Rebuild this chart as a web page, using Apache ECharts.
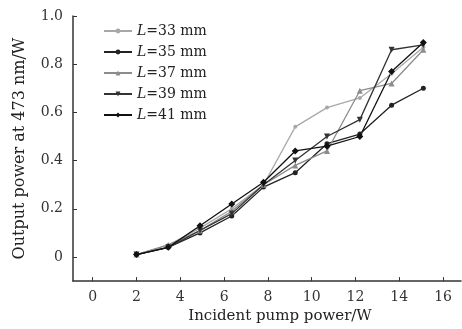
<!DOCTYPE html>
<html>
<head>
<meta charset="utf-8">
<script src="https://cdn.jsdelivr.net/npm/echarts@6/dist/echarts.min.js"></script>
<style>
  html, body { margin: 0; padding: 0; background: #fff; }
  #chart { width: 462px; height: 329px; }
</style>
</head>
<body>
<div id="chart"></div>
<script>
// pump power (W)
const pump = [2, 3.45, 4.9, 6.35, 7.8, 9.25, 10.7, 12.2, 13.65, 15.1]

const lengths = ['33', '35', '37', '39', '41']
const l33 = [0.01, 0.05, 0.12, 0.20, 0.30, 0.54, 0.62, 0.66, 0.76, 0.87]
const l35 = [0.01, 0.04, 0.10, 0.17, 0.29, 0.35, 0.47, 0.51, 0.63, 0.70]
const l37 = [0.01, 0.05, 0.11, 0.19, 0.30, 0.38, 0.44, 0.69, 0.72, 0.86]
const l39 = [0.01, 0.04, 0.11, 0.18, 0.30, 0.40, 0.50, 0.57, 0.86, 0.88]
const l41 = [0.01, 0.04, 0.13, 0.22, 0.31, 0.44, 0.46, 0.50, 0.77, 0.89]

const xTicks = [0, 2, 4, 6, 8, 10, 12, 14, 16]
const yTicks = [0, 0.2, 0.4, 0.6, 0.8, 1.0]

const serif = 'DejaVu Serif'

let mk = (name, vals, color, symbol, size, rotate) => {
    return {
        name: name,
        type: 'line',
        data: pump.map((x, i) => [x, vals[i]]),
        symbol: symbol,
        symbolSize: size,
        symbolRotate: rotate || 0,
        color: color,
        lineStyle: { width: 1.3, color: color },
        itemStyle: { color: color },
        animation: false
    }
}

const chart = echarts.init(document.getElementById('chart'), null, { renderer: 'canvas' })

chart.setOption({
    animation: false,
    grid: { left: 73, top: 16, right: 1, bottom: 43, containLabel: false },
    legend: {
        orient: 'vertical',
        left: 98,
        top: 19,
        itemWidth: 28,
        itemHeight: 6,
        itemGap: 7,
        formatter: (n) => '{i|L}{n|=' + n + ' mm}',
        textStyle: {
            rich: {
                i: { fontFamily: serif, fontSize: 14, fontStyle: 'italic', color: '#222', lineHeight: 17 },
                n: { fontFamily: serif, fontSize: 14, color: '#222', lineHeight: 17 }
            }
        },
        padding: [5, 5, 5, 5],
        data: lengths
    },
    xAxis: {
        type: 'value',
        min: -0.9,
        max: 16.82,
        name: 'Incident pump power/W',
        nameLocation: 'middle',
        nameGap: 26,
        nameTextStyle: { fontFamily: serif, fontSize: 15, color: '#222', padding: [0, 0, 0, 26] },
        splitLine: { show: false },
        axisLine: { onZero: false, lineStyle: { color: '#333', width: 1.5 } },
        axisTick: { inside: true, length: 4, customValues: xTicks, lineStyle: { color: '#333' } },
        axisLabel: { customValues: xTicks, margin: 9, fontFamily: serif, fontSize: 14, color: '#333' }
    },
    yAxis: {
        type: 'value',
        min: -0.1,
        max: 1.0,
        name: 'Output power at 473 nm/W',
        nameLocation: 'middle',
        nameGap: 45,
        nameTextStyle: { fontFamily: serif, fontSize: 16, color: '#222' },
        splitLine: { show: false },
        axisLine: { show: true, onZero: false, lineStyle: { color: '#333', width: 1.5 } },
        axisTick: { show: true, inside: true, length: 4, customValues: yTicks, lineStyle: { color: '#333' } },
        axisLabel: {
            customValues: yTicks,
            margin: 10,
            fontFamily: serif,
            fontSize: 14,
            color: '#333',
            formatter: (v) => v === 0 ? '0' : v.toFixed(1)
        }
    },
    series: [
        mk('33', l33, '#a8a8a8', 'circle', 4),
        mk('35', l35, '#222222', 'circle', 5),
        mk('37', l37, '#8c8c8c', 'triangle', 6),
        mk('39', l39, '#333333', 'triangle', 6, 180),
        mk('41', l41, '#111111', 'diamond', 7)
    ]
})
</script>
</body>
</html>
